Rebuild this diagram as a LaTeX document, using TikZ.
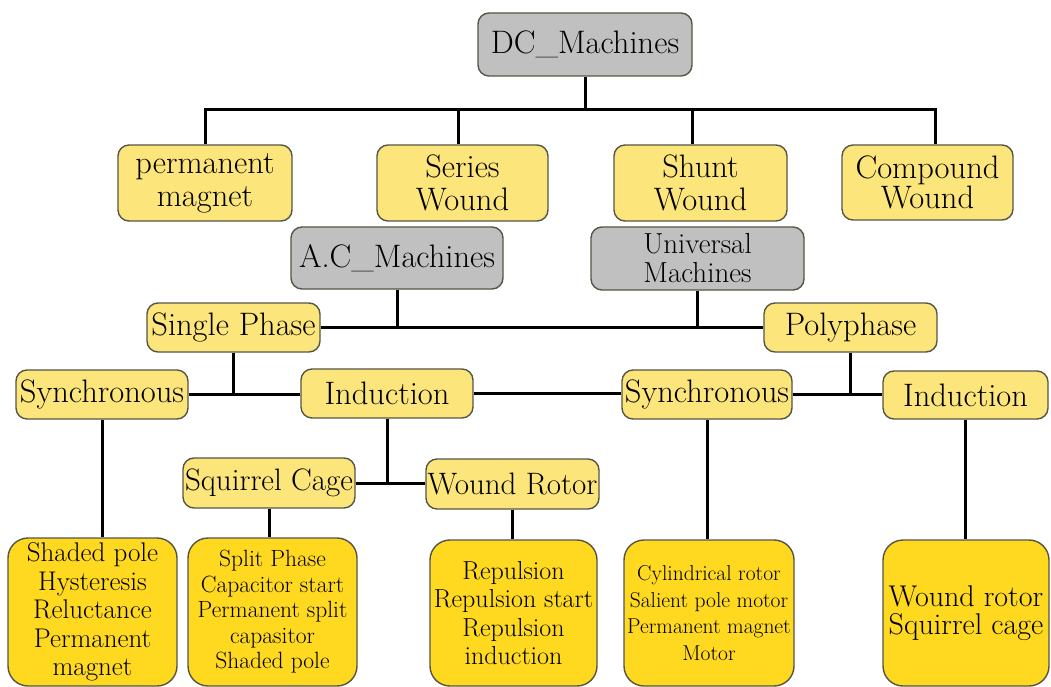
\documentclass[tikz,border=0pt]{standalone}
\definecolor{paleyellow}{RGB}{252,229,122}
\definecolor{deepyellow}{RGB}{255,216,32}
\definecolor{machgray}{RGB}{192,192,192}
\definecolor{edgegray}{RGB}{85,85,70}
\tikzset{
	typebox/.style={draw=edgegray, line width=1.4pt, rounded corners=11pt, align=center, inner sep=0pt, font=\fontsize{32.5}{33}\selectfont},
	machbox/.style={typebox, fill=machgray},
	kindbox/.style={typebox, fill=paleyellow},
	listbox/.style={draw=edgegray, line width=1.4pt, rounded corners=20pt, fill=deepyellow, align=center, inner sep=0pt, minimum height=146pt},
	link/.style={line width=3pt}
}

\begin{document}
\begin{tikzpicture}[x=1pt,y=-1pt]
				\useasboundingbox (0,0) rectangle (1051,687);
				
				% DC machines
				\node[machbox, minimum width=214pt, minimum height=63pt] (dc) at (585,44.5) {DC\_Machines};
				\node[kindbox, minimum width=174pt, minimum height=76pt] (pm) at (205,183) {permanent\\magnet};
				\node[kindbox, minimum width=171pt, minimum height=76pt] (sw) at (462.5,183) {Series\\Wound};
				\node[kindbox, minimum width=173pt, minimum height=76pt] (shw) at (700.5,183) {Shunt\\Wound};
				\node[kindbox, minimum width=171pt, minimum height=75pt] (cw) at (927.5,182.5) {\raisebox{-6pt}{\shortstack{Compound\\[-2pt]Wound}}};
				
				\coordinate (dcbus) at (585,110);
				\draw[link] (dc.south) -- (dcbus);
				\draw[link] (pm.north) |- (dcbus) -| ([xshift=8pt]cw.north);
				\draw[link] ([xshift=-4pt]sw.north) |- (dcbus);
				\draw[link] ([xshift=-8pt]shw.north) |- (dcbus);
				
				% AC and universal machines
				\node[machbox, minimum width=212pt, minimum height=62pt] (ac) at (397,258) {A.C\_Machines};
				\node[machbox, minimum width=213pt, minimum height=63pt, font=\fontsize{29}{29}\selectfont] (um) at (697.5,258.5) {Universal\\Machines};
				
				\node[kindbox, minimum width=173pt, minimum height=49pt] (sp) at (233.5,327.5) {Single Phase};
				\node[kindbox, minimum width=173pt, minimum height=49pt] (pp) at (850.5,327.5) {Polyphase};
				
				\draw[link] (sp.east) -- (pp.west);
				\draw[link] (ac.south) -- (ac.south |- sp.east);
				\draw[link] (um.south) -- (um.south |- pp.west);
				
				\node[kindbox, minimum width=172pt, minimum height=49pt] (syncL) at (102,394.5) {Synchronous};
				\node[kindbox, minimum width=172pt, minimum height=49pt] (indL) at (387,393.5) {Induction};
				\node[kindbox, minimum width=170pt, minimum height=49pt] (syncR) at (707,394.5) {Synchronous};
				\node[kindbox, minimum width=165pt, minimum height=48pt] (indR) at (965.5,395) {Induction};
				
				\draw[link] (sp.south) -- (sp.south |- syncL.east);
				\draw[link] (syncL.east) -- (syncL.east -| indL.west);
				\draw[link] (indL.east) -- (indL.east -| syncR.west);
				\draw[link] (pp.south) -- (pp.south |- syncR.east);
				\draw[link] (syncR.east) -- (syncR.east -| indR.west);
				
				\node[kindbox, minimum width=172pt, minimum height=50pt, font=\fontsize{31}{31}\selectfont] (sc) at (269,483) {Squirrel Cage};
				\node[kindbox, minimum width=173pt, minimum height=50pt, font=\fontsize{31}{31}\selectfont] (wr) at (512.5,484) {Wound Rotor};
				
				\draw[link] (indL.south) -- (indL.south |- sc.east);
				\draw[link] (sc.east) -- (sc.east -| wr.west);
				
				% motor types
				\node[listbox, minimum width=169pt, minimum height=148pt, font=\fontsize{27}{28.5}\selectfont] (b1) at (92.5,612) {Shaded pole\\Hysteresis\\Reluctance\\Permanent\\magnet};
				\node[listbox, minimum width=169pt, minimum height=148pt, font=\fontsize{23.5}{25.5}\selectfont] (b2) at (272.5,612) {Split Phase\\Capacitor start\\Permanent split\\capasitor\\Shaded pole};
				\node[listbox, minimum width=167pt, font=\fontsize{26}{28.5}\selectfont] (b3) at (513.5,613) {Repulsion\\Repulsion start\\Repulsion\\induction};
				\node[listbox, minimum width=170pt, font=\fontsize{21.5}{26.5}\selectfont] (b4) at (709,613) {Cylindrical rotor\\Salient pole motor\\Permanent magnet\\Motor};
				\node[listbox, minimum width=166pt, font=\fontsize{30}{28}\selectfont] (b5) at (966,613) {Wound rotor\\Squirrel cage};
				
				\draw[link] (syncL.south) -- (syncL.south |- b1.north);
				\draw[link] (sc.south) -- (sc.south |- b2.north);
				\draw[link] (wr.south) -- (wr.south |- b3.north);
				\draw[link] (syncR.south) -- (syncR.south |- b4.north);
				\draw[link] (indR.south) -- (indR.south |- b5.north);
			\end{tikzpicture}
\end{document}
